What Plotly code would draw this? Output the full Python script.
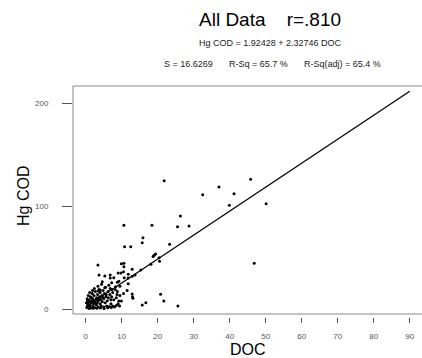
import plotly.graph_objects as go

# ---- data ----
doc = [21.8, 26.3, 25.5, 28.7, 10.6, 18.4, 32.5, 37.0, 41.2, 45.8, 39.9, 50.1, 46.8,
       15.9, 15.7, 10.8, 12.5, 23.3, 19.4, 19.0, 18.7, 20.4, 20.5, 18.1, 15.3, 3.4,
       10.6, 10.6, 9.8, 10.5, 3.7, 5.3, 7.8, 11.8, 12.9, 9.2, 8.8, 4.6, 7.2, 11.8,
       9.5, 8.3, 5.3, 4.0, 3.5, 12.9, 13.1, 20.8, 16.7, 15.7, 21.7, 25.6, 9.2, 9.9,
       7.0, 8.5, 7.5, 12.9, 11.8, 13.7, 10.7, 6.8, 6.8, 9.0, 9.9, 13.0,
       0.3, 0.5, 0.6, 0.8, 1.0, 1.0, 1.2, 1.3, 1.5, 1.5, 1.7, 1.8, 2.0, 2.0, 2.2,
       2.3, 2.5, 2.5, 2.7, 2.8, 3.0, 3.0, 3.2, 3.3, 3.5, 3.5, 3.7, 3.8, 4.0, 4.0,
       4.2, 4.3, 4.5, 4.6, 4.8, 5.0, 5.0, 5.2, 5.4, 5.6, 5.8, 6.0, 6.2, 6.3, 6.5,
       6.7, 7.0, 7.2, 7.5, 7.8, 8.0, 8.2, 8.5, 8.7, 9.0, 9.4, 0.4, 0.7, 1.1, 0.2,
       0.9, 2.1, 3.1, 4.1, 5.1, 6.1, 7.1, 0.5, 1.6, 2.4, 3.4, 4.4, 5.5, 6.4, 1.9,
       7.3, 8.8, 9.5, 10.5, 11.5, 6.8,
       0.6, 1.4, 2.6, 3.6, 4.7, 5.7, 2.9, 1.2, 3.9, 2.2]
hg_cod = [124.6, 90.3, 79.8, 80.6, 81.2, 81.2, 111.0, 118.4, 112.0, 125.9, 100.7, 102.3, 44.4,
          69.2, 64.4, 60.5, 60.5, 62.8, 53.5, 52.2, 51.0, 49.8, 46.3, 43.4, 37.9, 42.7,
          44.4, 41.0, 35.0, 36.2, 33.0, 32.0, 30.4, 30.0, 31.7, 27.0, 26.0, 26.5, 25.5, 24.6,
          22.0, 21.5, 20.7, 18.5, 17.5, 14.6, 10.4, 14.3, 6.1, 3.9, 7.8, 2.9, 7.8, 7.8,
          9.0, 3.3, 2.8, 38.5, 33.7, 33.0, 30.4, 33.0, 30.0, 35.0, 44.0, 12.0,
          1.5, 3.0, 5.0, 7.0, 2.0, 9.0, 4.0, 12.0, 6.0, 1.0, 8.0, 15.0, 3.0, 10.0, 5.0,
          13.0, 7.0, 1.5, 17.0, 9.0, 4.0, 11.0, 6.0, 14.0, 2.0, 8.0, 19.0, 12.0, 5.0, 16.0,
          9.0, 3.0, 13.0, 7.0, 18.0, 10.0, 2.0, 15.0, 6.0, 12.0, 3.0, 8.0, 17.0, 11.0, 2.5,
          14.0, 5.0, 12.0, 16.0, 9.0, 2.0, 19.0, 11.0, 14.0, 5.0, 3.0, 10.0, 13.0, 16.0, 6.0,
          0.5, 0.8, 0.7, 1.0, 0.6, 1.2, 1.5, 8.5, 11.0, 20.0, 22.0, 24.0, 21.0, 23.0, 18.0,
          19.0, 17.0, 13.0, 15.0, 18.0, 20.0,
          4.0, 6.5, 8.0, 9.5, 11.5, 13.5, 5.5, 3.5, 10.0, 7.5]

intercept = 1.92428
slope = 2.32746
fit_doc = [0.3, 90.0]
fit_hg = [intercept + slope * v for v in fit_doc]

x_ticks = [0, 10, 20, 30, 40, 50, 60, 70, 80, 90]
y_ticks = [0, 100, 200]

title_text = "All Data\u00a0\u00a0\u00a0\u00a0r=.810"
eq_text = "Hg COD = 1.92428 + 2.32746 DOC"
stats_texts = ["S = 16.6269", "R-Sq = 65.7 %", "R-Sq(adj) = 65.4 %"]
x_title = "DOC"
y_title = "Hg COD"

# ---- layout geometry ----
W, H = 422, 358
L, R, T, B = 72, 0, 86, 41
pw = W - L - R
ph = H - T - B

FONT = "Liberation Sans, Arial, sans-serif"

def px_x(p):
    return (p - L) / pw

def px_y(p):
    return (H - B - p) / ph

fig = go.Figure()
fig.add_trace(go.Scatter(x=doc, y=hg_cod, mode="markers",
                         marker=dict(color="black", size=3, symbol="circle", line=dict(width=0))))
fig.add_trace(go.Scatter(x=fit_doc, y=fit_hg, mode="lines",
                         line=dict(color="black", width=1.3)))

axis_common = dict(showgrid=False, zeroline=False, showline=False, ticks="outside",
                   tickcolor="#555555", tickwidth=1,
                   tickfont=dict(family=FONT, size=8, color="#555555"))

fig.update_layout(
    width=W, height=H,
    margin=dict(l=L, r=R, t=T, b=B, pad=0),
    paper_bgcolor="white", plot_bgcolor="white",
    showlegend=False,
    xaxis=dict(domain=[1 / pw, 1], range=[-3.53, 93.4], anchor="free", position=0,
               tickvals=x_ticks, ticklen=5, ticklabelstandoff=6, **axis_common),
    yaxis=dict(domain=[3 / ph, 1], range=[-4.85, 216.5], anchor="free", position=0,
               tickvals=y_ticks, ticklen=10, ticklabelstandoff=12, **axis_common),
    shapes=[dict(type="rect", xref="paper", yref="paper",
                 x0=1 / pw, x1=1.05, y0=3 / ph, y1=1,
                 line=dict(color="#888888", width=1))],
)

ann = [
    dict(text=title_text, x=px_x(270), y=px_y(20), font=dict(size=19, family=FONT, color="black"),
         xanchor="center", yanchor="middle"),
    dict(text=eq_text, x=px_x(270), y=px_y(43), font=dict(size=9, family=FONT, color="#222222"),
         xanchor="center", yanchor="middle"),
    dict(text=stats_texts[0], x=px_x(162), y=px_y(64), font=dict(size=9, family=FONT, color="#222222"),
         xanchor="left", yanchor="middle"),
    dict(text=stats_texts[1], x=px_x(227), y=px_y(64), font=dict(size=9, family=FONT, color="#222222"),
         xanchor="left", yanchor="middle"),
    dict(text=stats_texts[2], x=px_x(302), y=px_y(64), font=dict(size=9, family=FONT, color="#222222"),
         xanchor="left", yanchor="middle"),
    dict(text=x_title, x=px_x(248), y=px_y(349), font=dict(size=16, family=FONT, color="black"),
         xanchor="center", yanchor="middle"),
    dict(text=y_title, x=px_x(23), y=px_y(196), font=dict(size=16, family=FONT, color="black"),
         xanchor="center", yanchor="middle", textangle=-90),
]
for a in ann:
    a.update(xref="paper", yref="paper", showarrow=False)
fig.update_layout(annotations=ann)

fig.write_html("out.html",
               config={"displayModeBar": False},
               post_script="document.body.style.margin='0';document.body.style.overflow='hidden';")
